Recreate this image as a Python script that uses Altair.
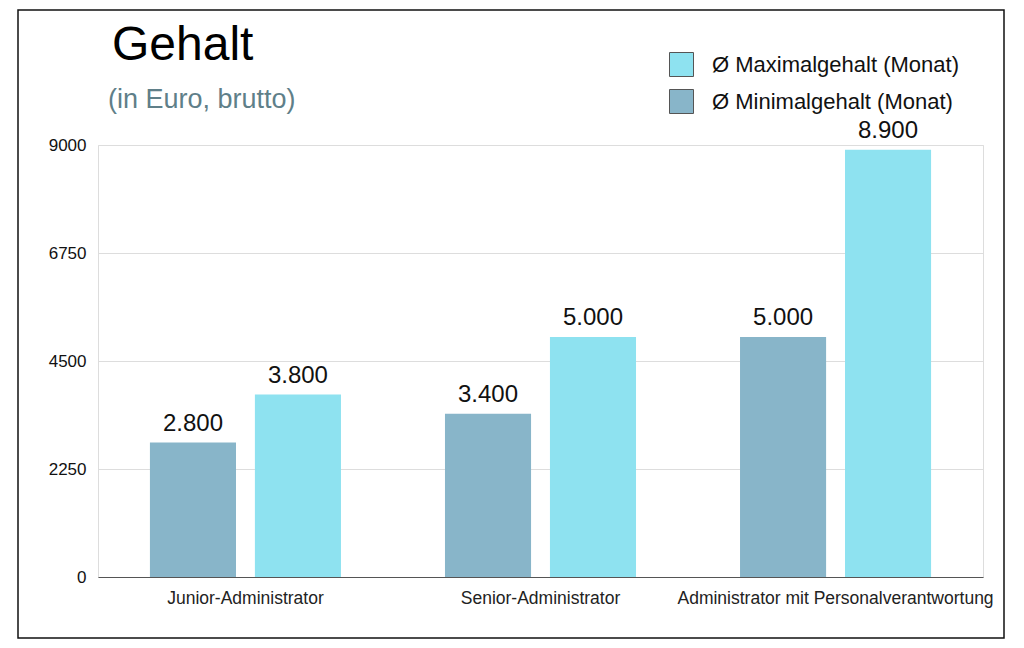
import altair as alt
import pandas as pd

categories = ["Junior-Administrator", "Senior-Administrator", "Administrator mit Personalverantwortung"]
min_values = [2800, 3400, 5000]
max_values = [3800, 5000, 8900]
series_min = "Ø Minimalgehalt (Monat)"
series_max = "Ø Maximalgehalt (Monat)"
y_ticks = [0, 2250, 4500, 6750, 9000]
title_text = "Gehalt"
subtitle_text = "(in Euro, brutto)"

FONT = "Liberation Sans"
C_MIN = "#88b5c9"
C_MAX = "#8ee2f0"

rows = []
for c, mn, mx in zip(categories, min_values, max_values):
    rows.append({"cat": c, "series": series_min, "value": mn})
    rows.append({"cat": c, "series": series_max, "value": mx})
df = pd.DataFrame(rows)
df["label"] = df["value"].map(lambda v: f"{v:,}".replace(",", "."))

x = alt.X("cat:N", sort=categories, title=None,
          scale=alt.Scale(paddingInner=0.3525, paddingOuter=0.176),
          axis=alt.Axis(labelAngle=0, labelFont=FONT, labelFontSize=17.5, labelColor="#222",
                        ticks=False, domainColor="#555", domainWidth=1, labelPadding=12,
                        labelLimit=400))
xoff = alt.XOffset("series:N", sort=[series_min, series_max],
                   scale=alt.Scale(paddingInner=0.18, paddingOuter=0))
y = alt.Y("value:Q", title=None, scale=alt.Scale(domain=[0, 9000], nice=False),
          axis=alt.Axis(values=y_ticks, format="d", ticks=False, domain=False,
                        labelFont=FONT, labelFontSize=17, labelColor="#111", labelPadding=12,
                        gridColor="#dddddd", gridWidth=1))

base = alt.Chart(df)
bars = base.mark_bar().encode(
    x=x, xOffset=xoff, y=y,
    color=alt.Color("series:N",
                    scale=alt.Scale(domain=[series_max, series_min], range=[C_MAX, C_MIN]),
                    legend=alt.Legend(title=None, orient="none", legendX=571, legendY=-93,
                                      symbolType="square", symbolSize=576,
                                      symbolStrokeColor="#555", symbolStrokeWidth=1,
                                      symbolOpacity=1, labelFont=FONT, labelFontSize=22,
                                      labelColor="#111", labelOffset=18, rowPadding=8,
                                      labelLimit=400)),
)
values = base.mark_text(font=FONT, fontSize=24, color="#111", baseline="bottom", dy=-7).encode(
    x=x, xOffset=xoff, y=y, text="label:N"
)

title = alt.Chart(pd.DataFrame({"t": [title_text]})).mark_text(
    font=FONT, fontSize=48, color="#000", align="left", baseline="alphabetic"
).encode(text="t:N", x=alt.value(14), y=alt.value(-85))

subtitle = alt.Chart(pd.DataFrame({"t": [subtitle_text]})).mark_text(
    font=FONT, fontSize=27, color="#5f7f89", align="left", baseline="alphabetic"
).encode(text="t:N", x=alt.value(10), y=alt.value(-37))

border = alt.Chart(pd.DataFrame({"b": [0]})).mark_rect(
    fill=None, stroke="#111", strokeWidth=1.5
).encode(x=alt.value(-80), x2=alt.value(906), y=alt.value(-135), y2=alt.value(493))

chart = alt.layer(bars, values, title, subtitle, border).properties(
    width=885, height=432,
    padding={"left": 90, "top": 137, "right": 33, "bottom": 63},
    autosize=alt.AutoSizeParams(type="none"),
).configure_view(stroke=None).configure(background="white")

chart.save("out.html", embed_options={"renderer": "svg", "actions": False})
